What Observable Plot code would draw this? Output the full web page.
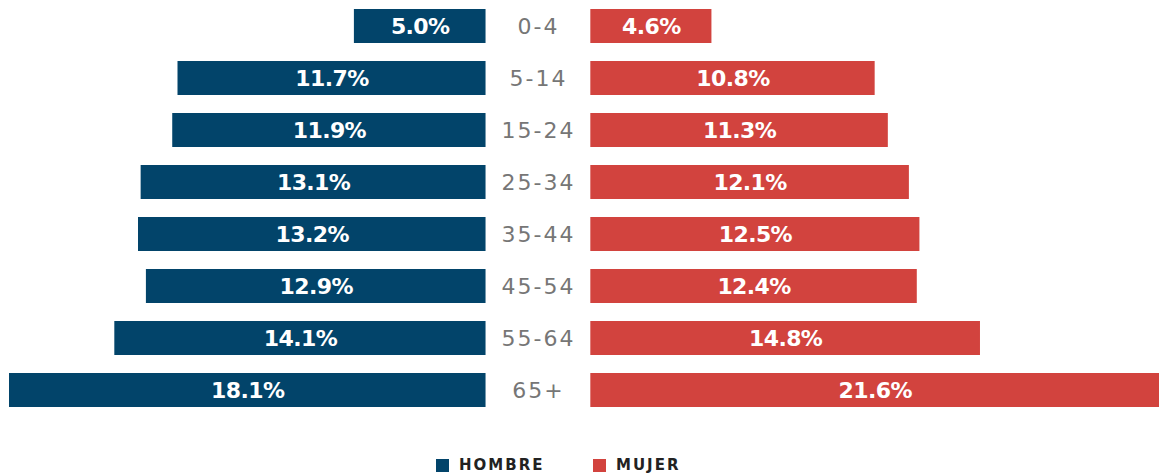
<!DOCTYPE html>
<html>
<head>
<meta charset="utf-8">
<script src="https://cdn.jsdelivr.net/npm/d3@7"></script>
<script src="https://cdn.jsdelivr.net/npm/@observablehq/plot@0.6"></script>
<style>
  html, body { margin: 0; padding: 0; background: #fff; }
  #chart { position: relative; width: 1170px; height: 475px; overflow: hidden; }
  #chart svg { display: block; }
  .legend { position: absolute; top: 457px; left: 0; width: 1170px; height: 17px;
            font-family: "DejaVu Sans", sans-serif; font-weight: bold; font-size: 15px;
            line-height: 17px; letter-spacing: 2px; color: #222; }
  .legend .item { position: absolute; top: 0; display: flex; align-items: center; }
  .legend .sw { width: 13px; height: 13px; margin-right: 10px; }
</style>
</head>
<body>
<div id="chart"></div>
<script>
const ages = ["0-4", "5-14", "15-24", "25-34", "35-44", "45-54", "55-64", "65+"];
const hombre = [5.0, 11.7, 11.9, 13.1, 13.2, 12.9, 14.1, 18.1];
const mujer = [4.6, 10.8, 11.3, 12.1, 12.5, 12.4, 14.8, 21.6];
const seriesNames = ["HOMBRE", "MUJER"];
const colors = ["#02446a", "#d2433e"];

const gap = 3.98; // central gap in value units
const rows = ages.map((a, i) => ({age: a, h: hombre[i], m: mujer[i]}));
const fmt = v => v.toFixed(1) + "%";
const valFont = {fill: "#fff", fontWeight: "bold", fontSize: 22, fontFamily: "DejaVu Sans, sans-serif"};

const plot = Plot.plot({
  width: 1170,
  height: 450,
  marginLeft: 9,
  marginRight: 11,
  marginTop: 0,
  marginBottom: 0,
  x: {domain: [-(gap / 2 + d3.max(hombre)), gap / 2 + d3.max(mujer)], axis: null},
  y: {domain: ages, range: [0.5, 416.5], paddingInner: 0.34, paddingOuter: 0.17, axis: null},
  marks: [
    Plot.barX(rows, {x1: d => -(gap / 2 + d.h), x2: -gap / 2, y: "age", fill: colors[0]}),
    Plot.barX(rows, {x1: gap / 2, x2: d => gap / 2 + d.m, y: "age", fill: colors[1]}),
    Plot.text(rows, {x: d => -(gap / 2 + d.h / 2), y: "age", text: d => fmt(d.h), ...valFont}),
    Plot.text(rows, {x: d => gap / 2 + d.m / 2, y: "age", text: d => fmt(d.m), ...valFont}),
    Plot.text(rows, {x: 0, y: "age", text: "age", fill: "#767676",
      fontSize: 22, fontFamily: "DejaVu Sans, sans-serif"})
  ]
});

// letter spacing tweaks
const textGroups = plot.querySelectorAll("g[aria-label='text']");
textGroups.forEach((g, i) => {
  g.style.letterSpacing = i < 2 ? "-0.6px" : "2px";
});

const chart = document.getElementById("chart");
chart.appendChild(plot);
const legend = document.createElement("div");
legend.className = "legend";
const lefts = [436, 593];
seriesNames.forEach((name, i) => {
  const item = document.createElement("div");
  item.className = "item";
  item.style.left = lefts[i] + "px";
  const sw = document.createElement("span");
  sw.className = "sw";
  sw.style.background = colors[i];
  item.appendChild(sw);
  const t = document.createElement("span");
  t.textContent = name;
  item.appendChild(t);
  legend.appendChild(item);
});
chart.appendChild(legend);
</script>
</body>
</html>
